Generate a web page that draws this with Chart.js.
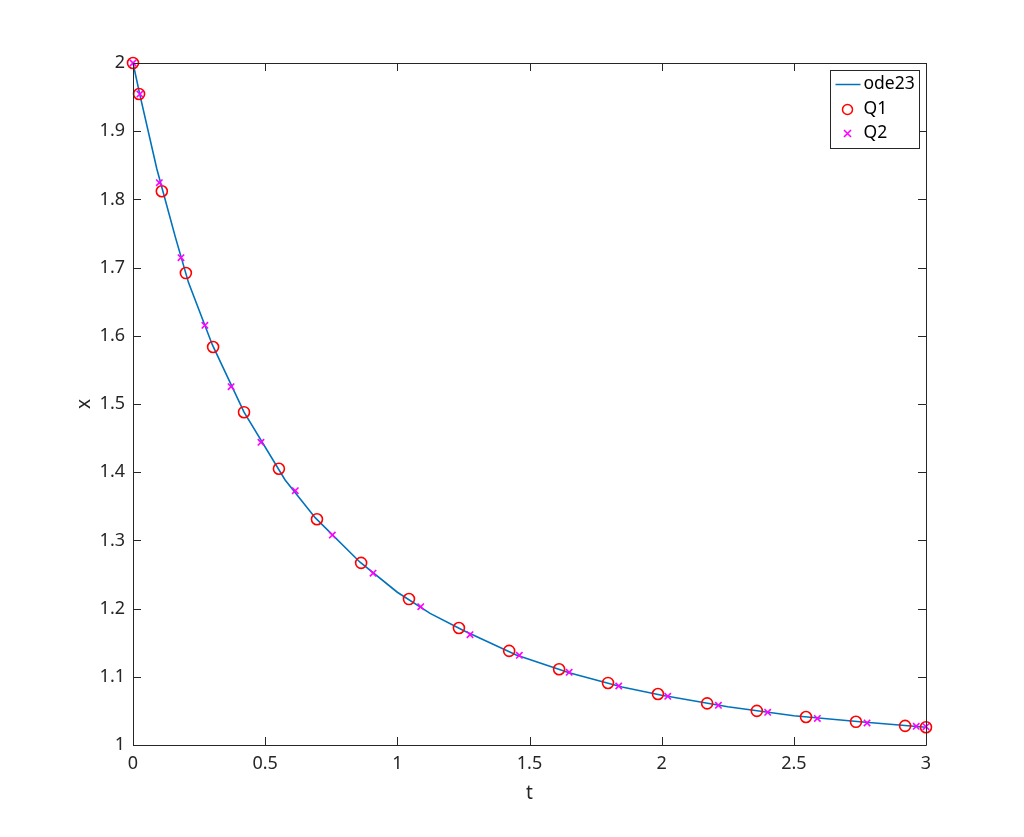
<!DOCTYPE html>
<html>
<head>
<meta charset="utf-8">
<script src="https://cdn.jsdelivr.net/npm/chart.js@4.4.1/dist/chart.umd.min.js"></script>
<style>
  html, body { margin: 0; padding: 0; background: #fff; }
  #wrap { width: 1024px; height: 837px; }
</style>
</head>
<body>
<div id="wrap"><canvas id="odeChart" width="1024" height="837"></canvas></div>
<script>
// ode23 solution curve
const odeT = [0, 0.025, 0.09, 0.16, 0.21, 0.3, 0.42, 0.5755, 0.69, 0.859, 1.0, 1.124, 1.25, 1.45, 1.65, 1.85, 2.0, 2.25, 2.5, 2.75, 3.0];
const odeX = [2.0, 1.955, 1.845, 1.745, 1.678, 1.587, 1.488, 1.3886, 1.333, 1.268, 1.224, 1.193, 1.168, 1.132, 1.106, 1.085, 1.073, 1.056, 1.043, 1.034, 1.026];

// Q1 (red circles)
const q1T = [0, 0.023, 0.109, 0.2, 0.303, 0.42, 0.552, 0.696, 0.863, 1.044, 1.233, 1.423, 1.612, 1.797, 1.986, 2.172, 2.36, 2.546, 2.735, 2.921, 3.0];
const q1X = [2.0, 1.9545, 1.812, 1.692, 1.5836, 1.488, 1.405, 1.331, 1.267, 1.214, 1.1716, 1.138, 1.111, 1.091, 1.0748, 1.061, 1.050, 1.041, 1.034, 1.028, 1.026];

// Q2 (magenta crosses)
const q2T = [0, 0.026, 0.0996, 0.1816, 0.272, 0.371, 0.484, 0.614, 0.754, 0.908, 1.0885, 1.275, 1.4616, 1.65, 1.8376, 2.023, 2.2146, 2.401, 2.589, 2.777, 2.963, 3.0];
const q2X = [2.0, 1.9545, 1.8245, 1.7145, 1.6154, 1.5254, 1.4438, 1.3729, 1.3079, 1.252, 1.2028, 1.1617, 1.1315, 1.1066, 1.0865, 1.0714, 1.0582, 1.048, 1.039, 1.0323, 1.0274, 1.0269];

const xTicks = [0, 0.5, 1, 1.5, 2, 2.5, 3];
const yTicks = [1, 1.1, 1.2, 1.3, 1.4, 1.5, 1.6, 1.7, 1.8, 1.9, 2];

const seriesNames = ['ode23', 'Q1', 'Q2'];
const axisTitles = ['t', 'x'];
const lineBlue = '#0072BD';
const red = '#ff0000';
const magenta = '#ff00ff';
const axisColor = '#262626';
const fontFamily = '"Noto Sans", "Open Sans", sans-serif';

const toPoints = (ts, xs) => ts.map((t, i) => ({ x: t, y: xs[i] }));

// box, inward ticks, axis titles and the legend
const matlabAxes = {
  id: 'matlabAxes',
  afterDatasetsDraw(chart) {
    const { ctx, chartArea: a, scales } = chart;
    ctx.save();
    ctx.strokeStyle = axisColor;
    ctx.lineWidth = 1;
    ctx.beginPath();
    ctx.rect(Math.round(a.left) + 0.5, Math.round(a.top) + 0.5, Math.round(a.right - a.left), Math.round(a.bottom - a.top));
    ctx.stroke();

    const len = 8;
    ctx.beginPath();
    xTicks.forEach(v => {
      const px = Math.round(scales.x.getPixelForValue(v)) + 0.5;
      ctx.moveTo(px, a.bottom); ctx.lineTo(px, a.bottom - len);
      ctx.moveTo(px, a.top); ctx.lineTo(px, a.top + len);
    });
    yTicks.forEach(v => {
      const py = Math.round(scales.y.getPixelForValue(v)) + 0.5;
      ctx.moveTo(a.left, py); ctx.lineTo(a.left + len, py);
      ctx.moveTo(a.right, py); ctx.lineTo(a.right - len, py);
    });
    ctx.stroke();

    // axis titles
    ctx.fillStyle = axisColor;
    ctx.font = '19px ' + fontFamily;
    ctx.textAlign = 'center';
    ctx.textBaseline = 'middle';
    ctx.fillText(axisTitles[0], (a.left + a.right) / 2, 794);
    ctx.save();
    ctx.translate(85, (a.top + a.bottom) / 2);
    ctx.rotate(-Math.PI / 2);
    ctx.fillText(axisTitles[1], 0, 0);
    ctx.restore();

    // legend
    const lx = 830.5, ly = 70.5, lw = 89, lh = 78;
    ctx.fillStyle = '#fff';
    ctx.fillRect(lx, ly, lw, lh);
    ctx.strokeStyle = axisColor;
    ctx.strokeRect(lx, ly, lw, lh);
    ctx.font = '17.5px ' + fontFamily;
    ctx.textAlign = 'left';
    ctx.fillStyle = '#000';
    const rows = [ly + 14, ly + 39, ly + 63];
    seriesNames.forEach((name, i) => ctx.fillText(name, lx + 33, rows[i]));

    ctx.strokeStyle = lineBlue;
    ctx.lineWidth = 1.5;
    ctx.beginPath();
    ctx.moveTo(lx + 5, rows[0]); ctx.lineTo(lx + 30, rows[0]);
    ctx.stroke();

    ctx.strokeStyle = red;
    ctx.beginPath();
    ctx.arc(lx + 17, rows[1], 5, 0, Math.PI * 2);
    ctx.stroke();

    ctx.strokeStyle = magenta;
    ctx.lineWidth = 1.6;
    ctx.beginPath();
    ctx.moveTo(lx + 13.5, rows[2] - 3.5); ctx.lineTo(lx + 20.5, rows[2] + 3.5);
    ctx.moveTo(lx + 20.5, rows[2] - 3.5); ctx.lineTo(lx + 13.5, rows[2] + 3.5);
    ctx.stroke();
    ctx.restore();
  }
};

const fmt = v => String(Math.round(v * 10) / 10);

new Chart(document.getElementById('odeChart'), {
  type: 'scatter',
  data: {
    datasets: [
      {
        label: seriesNames[0],
        data: toPoints(odeT, odeX),
        showLine: true,
        borderColor: lineBlue,
        borderWidth: 1.6,
        pointRadius: 0,
        tension: 0,
        clip: false,
        order: 3
      },
      {
        label: seriesNames[1],
        data: toPoints(q1T, q1X),
        pointStyle: 'circle',
        pointRadius: 5.5,
        pointBorderWidth: 1.6,
        borderColor: red,
        backgroundColor: 'rgba(0,0,0,0)',
        clip: false,
        order: 2
      },
      {
        label: seriesNames[2],
        data: toPoints(q2T, q2X),
        pointStyle: 'crossRot',
        pointRadius: 4.5,
        pointBorderWidth: 1.6,
        borderColor: magenta,
        backgroundColor: magenta,
        clip: false,
        order: 1
      }
    ]
  },
  options: {
    responsive: false,
    animation: false,
    layout: { padding: { top: 63, right: 98, left: 0, bottom: 0 } },
    plugins: {
      legend: { display: false },
      tooltip: { enabled: false }
    },
    scales: {
      x: {
        type: 'linear',
        min: 0, max: 3,
        afterBuildTicks: s => { s.ticks = xTicks.map(v => ({ value: v })); },
        afterFit: s => { s.height = 92; },
        grid: { display: false, drawTicks: false },
        border: { display: false },
        ticks: {
          color: axisColor,
          padding: 8,
          font: { family: fontFamily, size: 18 },
          callback: v => fmt(v),
          maxRotation: 0
        }
      },
      y: {
        type: 'linear',
        min: 1, max: 2,
        afterBuildTicks: s => { s.ticks = yTicks.map(v => ({ value: v })); },
        afterFit: s => { s.width = 133; },
        grid: { display: false, drawTicks: false },
        border: { display: false },
        ticks: {
          color: axisColor,
          padding: 8,
          font: { family: fontFamily, size: 18 },
          callback: v => fmt(v)
        }
      }
    }
  },
  plugins: [matlabAxes]
});
</script>
</body>
</html>
